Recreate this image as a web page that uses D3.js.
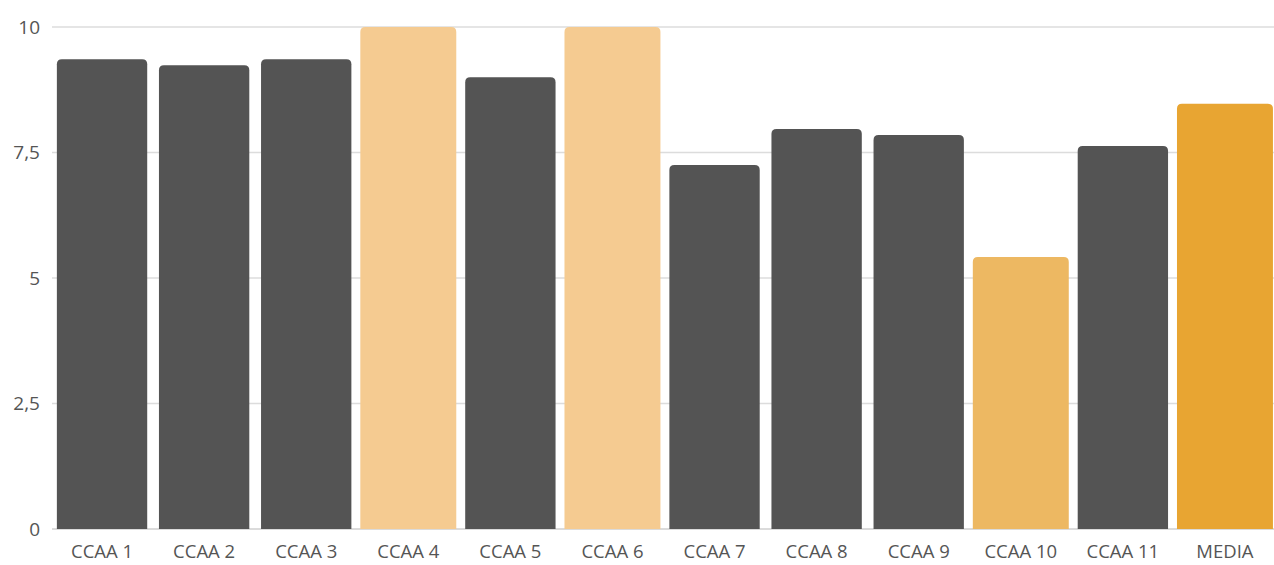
<!DOCTYPE html>
<html><head><meta charset="utf-8">
<script src="https://cdn.jsdelivr.net/npm/d3@7"></script>
<style>body{margin:0;background:#fff}svg{display:block}text{font-family:"Open Sans",sans-serif}</style>
</head><body><svg id="c" width="1274" height="565"></svg>
<script>
const categories = ["CCAA 1","CCAA 2","CCAA 3","CCAA 4","CCAA 5","CCAA 6","CCAA 7","CCAA 8","CCAA 9","CCAA 10","CCAA 11","MEDIA"];
const values = [9.36,9.24,9.36,10,9.0,10,7.25,7.97,7.85,5.42,7.63,8.47];
const colors = ["#545454","#545454","#545454","#f5cb91","#545454","#f5cb91","#545454","#545454","#545454","#edb862","#545454","#e8a532"];
const yTicks = [0,2.5,5,7.5,10];
const yTickLabels = ["0","2,5","5","7,5","10"];

const svg = d3.select("#c");
const x = d3.scaleBand().domain(categories).range([51,1276]).padding(0);
const y = d3.scaleLinear().domain([0,10]).range([529,27]);

// gridlines
svg.append("g").selectAll("line").data(yTicks).join("line")
  .attr("x1",52).attr("x2",1274)
  .attr("y1",d=>y(d)).attr("y2",d=>y(d))
  .attr("stroke",d=>d===0?"#cfcfcf":"#dcdcdc").attr("stroke-width",1.5);

// y labels
svg.append("g").selectAll("text").data(yTicks).join("text")
  .attr("x",40).attr("y",d=>y(d)).attr("dy","0.35em")
  .attr("text-anchor","end").attr("font-size",19).attr("fill","#555")
  .text((d,i)=>yTickLabels[i]);

// bars with rounded top corners
const r = 5;
function barPath(x0,w,yTop,yBot){
  return `M${x0},${yBot}V${yTop+r}Q${x0},${yTop} ${x0+r},${yTop}H${x0+w-r}Q${x0+w},${yTop} ${x0+w},${yTop+r}V${yBot}Z`;
}
const data = categories.map((c,i)=>({c,v:values[i],col:colors[i]}));
svg.append("g").selectAll("path").data(data).join("path")
  .attr("d",d=>{
    const cx = x(d.c)+x.bandwidth()/2;
    const w = d.col==="#545454" ? x.bandwidth()*0.885 : x.bandwidth()*0.94;
    return barPath(cx-w/2,w,y(d.v),y(0));
  })
  .attr("fill",d=>d.col);

// x labels
svg.append("g").selectAll("text").data(categories).join("text")
  .attr("x",d=>x(d)+x.bandwidth()/2).attr("y",558)
  .attr("text-anchor","middle").attr("font-size",18.5).attr("fill","#555")
  .text(d=>d);
</script></body></html>
